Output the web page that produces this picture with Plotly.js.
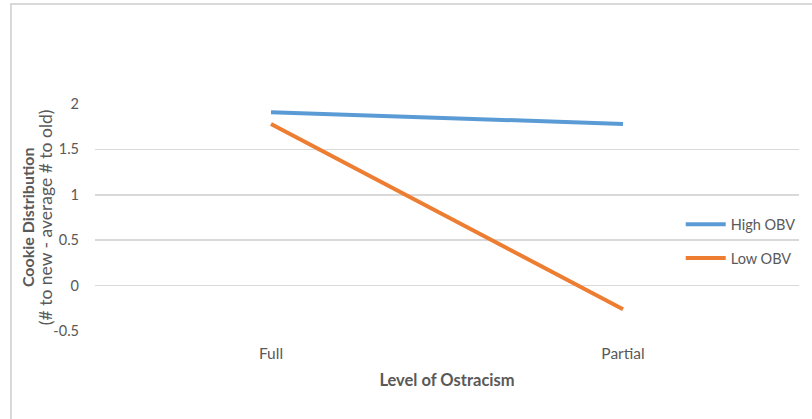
<!DOCTYPE html>
<html>
<head>
<meta charset="utf-8">
<script src="https://cdn.plot.ly/plotly-3.0.1.min.js"></script>
<style>
html,body{margin:0;padding:0;background:#fff;}
#wrap{position:relative;width:812px;height:419px;}
#chart{position:absolute;left:0;top:0;width:812px;height:419px;}
#frame{position:absolute;left:10px;top:3px;width:812px;height:430px;border-left:2px solid #d9d9d9;border-top:2px solid #d9d9d9;pointer-events:none;}
</style>
</head>
<body>
<div id="wrap"><div id="chart"></div><div id="frame"></div></div>
<script>
const categories = ["Full", "Partial"];
const seriesNames = ["High OBV", "Low OBV"];
const highOBV = [1.91, 1.78];
const lowOBV = [1.78, -0.26];
const yTicks = [-0.5, 0, 0.5, 1, 1.5, 2];
const yTickLabels = ["-0.5", "0", "0.5", "1", "1.5", "2"];
const yTitle = "<b><span style='font-size:16px'>Cookie Distribution</span></b><br><span style='font-size:17.5px'>(# to new - average # to old)</span>";

const font = "Lato, 'Open Sans', sans-serif";
const traces = [
  {x: categories, y: highOBV, name: seriesNames[0], type: "scatter", mode: "lines",
   line: {color: "#5b9bd5", width: 4}, legendgroup: "a"},
  {x: categories, y: lowOBV, name: seriesNames[1], type: "scatter", mode: "lines",
   line: {color: "#ed7d31", width: 4}, legendgroup: "b"}
];
const layout = {
  width: 812, height: 419,
  margin: {l: 95, r: 11, t: 104, b: 88},
  paper_bgcolor: "#fff", plot_bgcolor: "#fff",
  font: {family: font, color: "#595959", size: 15},
  showlegend: true,
  legend: {x: 0.832, y: 0.395, xanchor: "left", yanchor: "middle", bgcolor: "rgba(0,0,0,0)",
           font: {family: font, size: 14.5, color: "#595959"}, tracegroupgap: 12, traceorder: "grouped",
           itemwidth: 40},
  xaxis: {type: "category", range: [-0.5, 1.5], showgrid: false, zeroline: false, showline: false,
          ticks: "", tickfont: {size: 15.5, color: "#595959"}, ticklabelstandoff: 11,
          title: {text: "<b>Level of Ostracism</b>", font: {size: 16.5, color: "#595959"}, standoff: 13}},
  yaxis: {range: [-0.5, 2], tickvals: yTicks, ticktext: yTickLabels, showgrid: true, gridcolor: "#d9d9d9",
          gridwidth: 1.5, zeroline: false, showline: false, ticks: "", ticklabelstandoff: 15,
          tickfont: {size: 14.5, color: "#595959"}},
  annotations: [{text: yTitle, xref: "paper", yref: "paper", x: -0.0829, y: 0.5, xanchor: "center",
                 yanchor: "middle", textangle: -90, showarrow: false,
                 font: {family: font, size: 13.5, color: "#595959"}}]
};
Plotly.newPlot("chart", traces, layout, {displayModeBar: false, staticPlot: true});
</script>
</body>
</html>
